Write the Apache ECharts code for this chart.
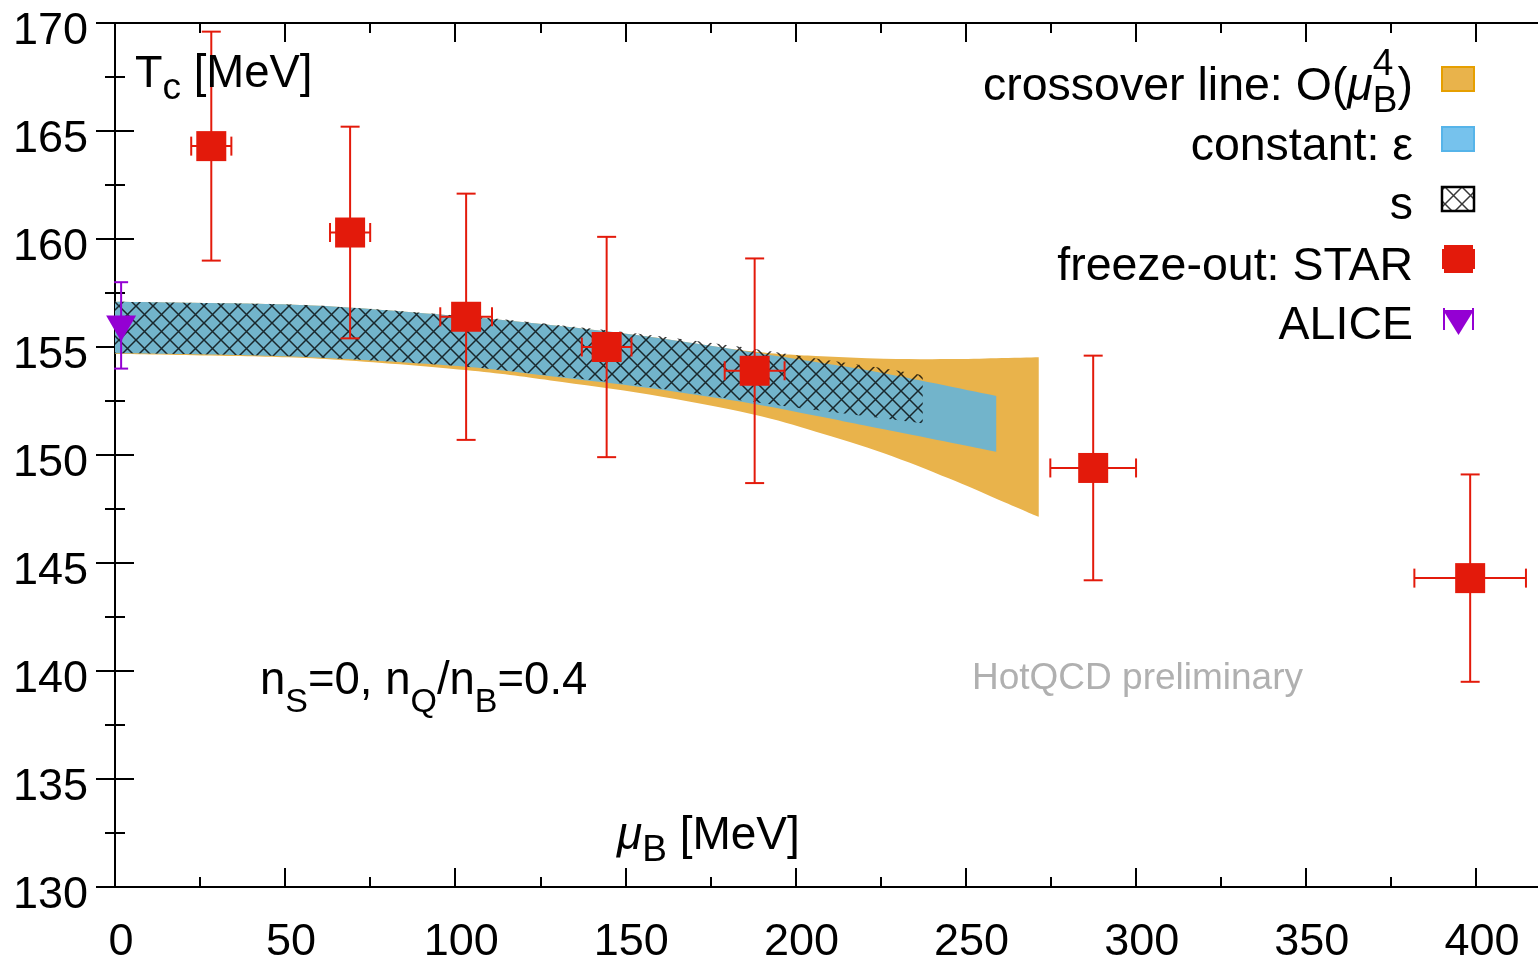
<!DOCTYPE html>
<html><head><meta charset="utf-8">
<script src="https://cdn.jsdelivr.net/npm/echarts@6/dist/echarts.min.js"></script>
<style>html,body{margin:0;padding:0;background:#fff}#c{width:1538px;height:964px}</style>
</head><body><div id="c"></div>
<script>
const FONT = '"Liberation Sans", Arial, Helvetica, sans-serif';

// ---- data ----
// STAR freeze-out points
const starMuB    = [28.3, 69.1, 103.2, 144.5, 188.0, 287.5, 398.3];
const starMuBErr = [5.9, 5.9, 7.6, 7.3, 8.8, 12.6, 16.4];
const starT      = [164.3, 160.3, 156.4, 155.0, 153.9, 149.4, 144.3];
const starTErr   = [5.3, 4.9, 5.7, 5.1, 5.2, 5.2, 4.8];
// ALICE point
const aliceMuB  = [1.8];
const aliceT    = [156.0];
const aliceTErr = [2.0];
// crossover line O(muB^4) band
const crossMuB = [0, 35, 64, 103, 128, 157, 187, 206, 226, 245, 259, 271.5];
const crossHi  = [157.10, 157.02, 156.87, 156.40, 156.02, 155.48, 154.80, 154.58, 154.46, 154.44, 154.48, 154.52];
const crossLo  = [154.68, 154.58, 154.42, 153.93, 153.45, 152.80, 151.90, 151.08, 150.08, 148.92, 147.98, 147.14];
// constant energy density band
const epsMuB = [0, 35, 64, 103, 128, 157, 187, 206, 226, 259];
const epsHi  = [157.10, 157.02, 156.87, 156.40, 156.02, 155.48, 154.77, 154.30, 153.78, 152.73];
const epsLo  = [154.71, 154.63, 154.48, 154.09, 153.65, 153.10, 152.39, 151.82, 151.19, 150.15];
// constant entropy band
const sMuB = [0, 35, 64, 103, 128, 157, 187, 206, 226, 237.4];
const sHi  = [157.10, 157.02, 156.88, 156.43, 156.05, 155.55, 154.93, 154.47, 154.01, 153.70];
const sLo  = [154.71, 154.63, 154.48, 154.09, 153.68, 153.15, 152.47, 152.08, 151.69, 151.47];

const RED = '#e31a0b';
const PURPLE = '#9400d3';
const ORANGE_FILL = '#e9b34b';
const BLUE_FILL = 'rgba(86,180,233,0.81)';

function hatchCanvas() {
  const n = 17;
  const c = document.createElement('canvas');
  c.width = n; c.height = n;
  const g = c.getContext('2d');
  g.strokeStyle = 'rgba(0,0,0,0.78)';
  g.lineWidth = 1.5;
  g.beginPath();
  g.moveTo(-1, -1); g.lineTo(n + 1, n + 1);
  g.moveTo(n + 1, -1); g.lineTo(-1, n + 1);
  g.stroke();
  return c;
}
const HATCH = { image: hatchCanvas(), repeat: 'repeat' };

// smooth (Catmull-Rom style) path segments through pixel points
function curveTo(p) {
  let d = '';
  const n = p.length;
  for (let i = 0; i < n - 1; i++) {
    const p0 = p[Math.max(i - 1, 0)], p1 = p[i], p2 = p[i + 1], p3 = p[Math.min(i + 2, n - 1)];
    const c1 = [p1[0] + (p2[0] - p0[0]) / 6, p1[1] + (p2[1] - p0[1]) / 6];
    const c2 = [p2[0] - (p3[0] - p1[0]) / 6, p2[1] - (p3[1] - p1[1]) / 6];
    d += ' C' + c1[0] + ',' + c1[1] + ' ' + c2[0] + ',' + c2[1] + ' ' + p2[0] + ',' + p2[1];
  }
  return d;
}

// band drawn as one closed area through the axes' scales
function band(name, xs, lo, hi, fill, z) {
  return {
    type: 'custom', name: name, silent: true, z: z,
    data: xs.map((x, i) => [x, lo[i], hi[i]]),
    renderItem(params, api) {
      if (params.dataIndex !== 0) return null;
      const up = xs.map((x, i) => api.coord([x, hi[i]]));
      const dn = xs.map((x, i) => api.coord([x, lo[i]])).reverse();
      const d = 'M' + up[0][0] + ',' + up[0][1] + curveTo(up) +
        ' L' + dn[0][0] + ',' + dn[0][1] + curveTo(dn) + ' Z';
      return { type: 'path', shape: { pathData: d }, style: { fill: fill } };
    }
  };
}

function errorBars(color, capPx, xs, ys, xe, ye) {
  return {
    type: 'custom', silent: true, z: 3,
    data: xs.map((x, i) => [x, ys[i], xe ? xe[i] : 0, ye[i]]),
    renderItem(params, api) {
      const x = api.value(0), y = api.value(1), ex = api.value(2), ey = api.value(3);
      const st = { stroke: color, lineWidth: 2 };
      const t = api.coord([x, y + ey]), b = api.coord([x, y - ey]);
      const ch = [];
      const ln = (x1, y1, x2, y2) => ch.push({ type: 'line', shape: { x1, y1, x2, y2 }, style: st });
      ln(t[0], t[1], b[0], b[1]);
      ln(t[0] - capPx, t[1], t[0] + capPx, t[1]);
      ln(b[0] - capPx, b[1], b[0] + capPx, b[1]);
      if (ex > 0) {
        const l = api.coord([x - ex, y]), r = api.coord([x + ex, y]);
        ln(l[0], l[1], r[0], r[1]);
        ln(l[0], l[1] - capPx, l[0], l[1] + capPx);
        ln(r[0], r[1] - capPx, r[0], r[1] + capPx);
      }
      return { type: 'group', children: ch };
    }
  };
}

// ---- text layout helper ----
const mctx = document.createElement('canvas').getContext('2d');
function tw(t, size, italic) { mctx.font = (italic ? 'italic ' : '') + size + 'px ' + FONT; return mctx.measureText(t).width; }
function textRun(x, base, parts, align, fill) {
  fill = fill || '#000';
  const widths = parts.map(p => p.stack ? Math.max(...p.stack.map(s => tw(s.t, s.s, false))) : tw(p.t, p.s, p.i));
  const total = widths.reduce((a, b) => a + b, 0);
  let cx = align === 'right' ? x - total : x;
  const els = [];
  const mk = (t, s, dy, it, xx) => {
    const font = (it ? 'italic ' : '') + s + 'px ' + FONT;
    els.push({ type: 'text', z: 10, silent: true, style: {
      text: t, x: xx, y: base + (dy || 0) - 0.3465 * s, font: font, fill: fill,
      align: 'left', verticalAlign: 'middle', textAlign: 'left', textVerticalAlign: 'middle' } });
  };
  parts.forEach((p, i) => {
    if (p.stack) p.stack.forEach(s => mk(s.t, s.s, s.dy, false, cx));
    else mk(p.t, p.s, p.dy, p.i, cx);
    cx += widths[i];
  });
  return els;
}

const F = 46.5;
const graphics = [];
graphics.push(...textRun(135, 90, [{ t: 'T', s: 45 }, { t: 'c', s: 37, dy: 12 }, { t: ' [MeV]', s: 45.5 }]));
graphics.push(...textRun(617, 852, [{ t: 'μ', s: 46, i: true }, { t: 'B', s: 37, dy: 12 }, { t: ' [MeV]', s: 46 }]));
graphics.push(...textRun(260, 697, [{ t: 'n', s: 45.5 }, { t: 'S', s: 34, dy: 17 }, { t: '=0, n', s: 45.5 },
  { t: 'Q', s: 34, dy: 17 }, { t: '/n', s: 45.5 }, { t: 'B', s: 34, dy: 17 }, { t: '=0.4', s: 45.5 }]));
graphics.push(...textRun(972, 692, [{ t: 'HotQCD preliminary', s: 37 }], 'left', '#b0b0b0'));

// legend
const legendRight = 1413;
const legendBase = [103, 163, 222, 283, 342];
const legendMid = [79, 139, 199, 259, 321];
graphics.push(...textRun(legendRight, legendBase[0], [{ t: 'crossover line: O(', s: F }, { t: 'μ', s: F, i: true },
  { stack: [{ t: 'B', s: 37, dy: 12 }, { t: '4', s: 37, dy: -25 }] }, { t: ')', s: F }], 'right'));
graphics.push(...textRun(legendRight, legendBase[1], [{ t: 'constant: ε', s: F }], 'right'));
graphics.push(...textRun(legendRight, legendBase[2], [{ t: 's', s: F }], 'right'));
graphics.push(...textRun(legendRight, legendBase[3], [{ t: 'freeze-out: STAR', s: F }], 'right'));
graphics.push(...textRun(legendRight, legendBase[4], [{ t: 'ALICE', s: F }], 'right'));
const ix = 1442, iw = 32, ih = 24;
graphics.push({ type: 'rect', z: 10, silent: true, shape: { x: ix, y: legendMid[0] - ih / 2, width: iw, height: ih }, style: { fill: ORANGE_FILL, stroke: '#e69f00', lineWidth: 2 } });
graphics.push({ type: 'rect', z: 10, silent: true, shape: { x: ix, y: legendMid[1] - ih / 2, width: iw, height: ih }, style: { fill: BLUE_FILL, stroke: '#56b4e9', lineWidth: 2 } });
graphics.push({ type: 'rect', z: 10, silent: true, shape: { x: ix, y: legendMid[2] - ih / 2, width: iw, height: ih }, style: { fill: HATCH, stroke: '#000', lineWidth: 2.5 } });
graphics.push({ type: 'rect', z: 10, silent: true, shape: { x: ix + 2, y: legendMid[3] - 14, width: 29, height: 28 }, style: { fill: RED } });
graphics.push({ type: 'line', z: 10, silent: true, shape: { x1: ix + 1, y1: legendMid[3] - 10, x2: ix + 1, y2: legendMid[3] + 10 }, style: { stroke: RED, lineWidth: 2 } });
graphics.push({ type: 'line', z: 10, silent: true, shape: { x1: ix + iw, y1: legendMid[3] - 10, x2: ix + iw, y2: legendMid[3] + 10 }, style: { stroke: RED, lineWidth: 2 } });
graphics.push({ type: 'polygon', z: 10, silent: true, shape: { points: [[ix + 1, legendMid[4] - 11], [ix + iw, legendMid[4] - 11], [ix + iw / 2 + 0.5, legendMid[4] + 14]] }, style: { fill: PURPLE } });
graphics.push({ type: 'line', z: 10, silent: true, shape: { x1: ix + 2, y1: legendMid[4] - 13, x2: ix + 2, y2: legendMid[4] + 9 }, style: { stroke: PURPLE, lineWidth: 2 } });
graphics.push({ type: 'line', z: 10, silent: true, shape: { x1: ix + iw - 1, y1: legendMid[4] - 13, x2: ix + iw - 1, y2: legendMid[4] + 9 }, style: { stroke: PURPLE, lineWidth: 2 } });

const axLine = { show: true, lineStyle: { color: '#000', width: 2 } };
const tickMajor = { show: true, inside: true, length: 19, lineStyle: { color: '#000', width: 2 } };
const tickMinor = { show: true, inside: true, length: 10, lineStyle: { color: '#000', width: 2 } };
const noLabel = { show: false };

function xAx(position, interval, tick, line, label) {
  return { type: 'value', position, min: 0, max: 420, interval, gridIndex: 0,
    axisLine: line ? axLine : { show: false }, axisTick: tick, splitLine: { show: false },
    axisLabel: label || noLabel };
}
function yAx(position, label) {
  return { type: 'value', position, min: 130, max: 170, interval: 5,
    axisLine: axLine, axisTick: tickMajor,
    minorTick: { show: true, splitNumber: 2, length: 10, lineStyle: { color: '#000', width: 2 } },
    splitLine: { show: false }, minorSplitLine: { show: false },
    axisLabel: label || noLabel };
}

const option = {
  animation: false,
  backgroundColor: '#fff',
  grid: { left: 115, right: -6, top: 23, bottom: 77, containLabel: false, outerBoundsMode: 'none' },
  xAxis: [
    xAx('bottom', 50, tickMajor, true, { show: true, fontSize: 45, fontFamily: FONT, color: '#000', margin: 33, lineHeight: 45, padding: [0, 0, 0, 12], showMaxLabel: false }),
    xAx('bottom', 25, tickMinor, false),
    xAx('top', 50, tickMajor, true),
    xAx('top', 25, tickMinor, false)
  ],
  yAxis: [
    yAx('left', { show: true, fontSize: 45, fontFamily: FONT, color: '#000', margin: 27, verticalAlign: 'top', lineHeight: 17 }),
    yAx('right')
  ],
  graphic: { elements: graphics },
  series: [
    band('crossover line: O(μB^4)', crossMuB, crossLo, crossHi, ORANGE_FILL, 1),
    band('constant: ε', epsMuB, epsLo, epsHi, BLUE_FILL, 1.1),
    band('s', sMuB, sLo, sHi, HATCH, 1.2),
    errorBars(RED, 9.5, starMuB, starT, starMuBErr, starTErr),
    errorBars(PURPLE, 7, aliceMuB, aliceT, null, aliceTErr),
    { type: 'scatter', name: 'freeze-out: STAR', data: starMuB.map((x, i) => [x, starT[i]]), symbol: 'rect', symbolSize: [30, 30], itemStyle: { color: RED, opacity: 1 }, z: 4, silent: true },
    { type: 'scatter', name: 'ALICE', data: aliceMuB.map((x, i) => [x, aliceT[i]]), symbol: 'triangle', symbolRotate: 180, symbolSize: [30, 26], symbolOffset: [0, 3], itemStyle: { color: PURPLE, opacity: 1 }, z: 4, silent: true }
  ]
};

const chart = echarts.init(document.getElementById('c'));
chart.setOption(option);
</script>
</body></html>
